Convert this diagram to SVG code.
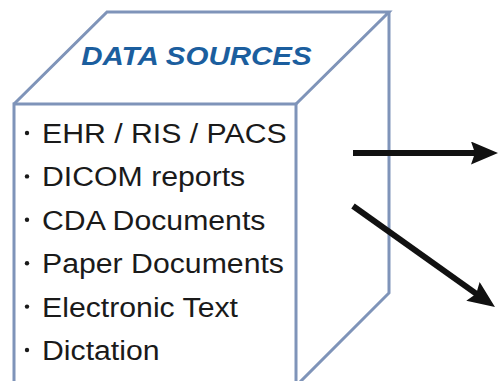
<svg xmlns="http://www.w3.org/2000/svg" width="500" height="381" viewBox="0 0 500 381">
  <defs>
    <style>
      .edge { fill: none; stroke: #7f94b9; stroke-width: 3; stroke-linejoin: miter; }
      .title { font-family: "Liberation Sans", Arial, sans-serif; font-weight: bold; font-style: italic; font-size: 25.5px; fill: #1b5e9e; }
      .item { font-family: "Liberation Sans", Arial, sans-serif; font-size: 27px; fill: #1a1a1a; }
      .bullet { fill: #1a1a1a; }
      .conn { fill: none; stroke: #111; stroke-width: 6; }
    </style>
    <marker id="head" markerUnits="userSpaceOnUse" viewBox="0 0 27 23" refX="9" refY="11.5" markerWidth="27" markerHeight="23" orient="auto">
      <path d="M0,0 L27,11.5 L0,23 L4,11.5 z" fill="#111"/>
    </marker>
  </defs>
  <rect width="500" height="381" fill="#ffffff"/>

  <g id="data-sources">
    <path class="edge" d="M14,104 L107,12 L389,12 L296,104"/>
    <path class="edge" d="M389,12 L389,293 L296,386"/>
    <rect class="edge" x="14" y="104" width="282" height="284"/>
    <g transform="matrix(1.157 0 0 1 0 0)">
      <text class="title" x="169.8" y="65" text-anchor="middle">DATA SOURCES</text>
    </g>
    <g>
      <circle class="bullet" cx="27" cy="133" r="2.2"/>
      <circle class="bullet" cx="27" cy="176.4" r="2.2"/>
      <circle class="bullet" cx="27" cy="219.8" r="2.2"/>
      <circle class="bullet" cx="27" cy="263.2" r="2.2"/>
      <circle class="bullet" cx="27" cy="306.6" r="2.2"/>
      <circle class="bullet" cx="27" cy="350" r="2.2"/>
    </g>
    <g transform="matrix(1.12 0 0 1 0 0)">
      <text class="item" x="37.5" y="143">EHR / RIS / PACS</text>
      <text class="item" x="37.5" y="186.4">DICOM reports</text>
      <text class="item" x="37.5" y="229.8">CDA Documents</text>
      <text class="item" x="37.5" y="273.2">Paper Documents</text>
      <text class="item" x="37.5" y="316.6">Electronic Text</text>
      <text class="item" x="37.5" y="360">Dictation</text>
    </g>
  </g>

  <g id="connectors">
    <line class="conn" x1="353" y1="153" x2="480" y2="153" marker-end="url(#head)"/>
    <line class="conn" x1="353" y1="206" x2="480.3" y2="296.6" marker-end="url(#head)"/>
  </g>
</svg>
